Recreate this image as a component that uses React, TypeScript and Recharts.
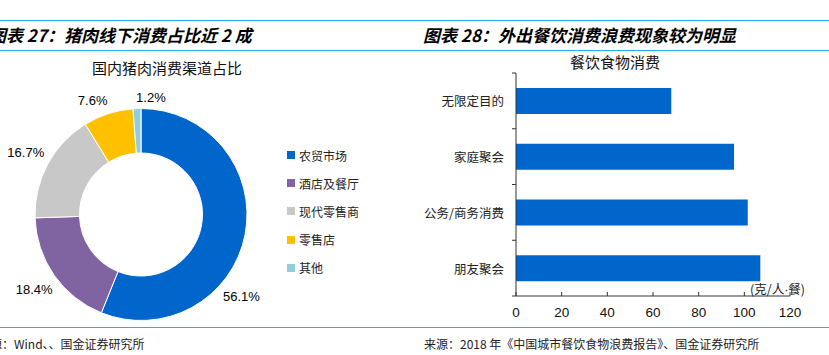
import React from 'react';
import { PieChart, Pie, Cell, BarChart, Bar, XAxis, YAxis } from 'recharts';

// pie: 国内猪肉消费渠道占比
const channelNames = ['农贸市场', '酒店及餐厅', '现代零售商', '零售店', '其他'];
const channelShares = [56.1, 18.4, 16.7, 7.6, 1.2];
const channelColors = ['#0066CC', '#8064A2', '#C8C8C8', '#FFC000', '#92CDDC'];

// bar: 餐饮食物消费 (克/人·餐)
const mealTypes = ['无限定目的', '家庭聚会', '公务/商务消费', '朋友聚会'];
const mealWaste = [68, 95.5, 101.5, 107];
const wasteTicks = [0, 20, 40, 60, 80, 100, 120];

const pieData = channelNames.map((name, i) => ({ name, value: channelShares[i] }));
const barData = mealTypes.map((name, i) => ({ name, value: mealWaste[i] }));

const CJK = '"Noto Sans CJK SC", "Noto Sans", sans-serif';
const ARIAL = '"Liberation Sans", Arial, sans-serif';
const RULE = '#1FB4EE';

const PctLabel = (props: any) => {
  const { cx, cy, outerRadius, startAngle, endAngle, percent, value } = props;
  // big slice label sits further along the arc; tiny slices get pushed apart
  let frac = 0.5;
  if (percent > 0.5) frac = 0.64;
  let ang = startAngle + (endAngle - startAngle) * frac;
  if (percent < 0.02) ang -= 7;
  else if (percent < 0.1) ang += 5;
  const rad = (-ang * Math.PI) / 180;
  const cos = Math.cos(rad);
  const sin = Math.sin(rad);
  const dist = outerRadius + 3 + Math.abs(cos) * 21 + Math.abs(sin) * 7;
  return (
    <text
      x={cx + dist * cos}
      y={cy + dist * sin}
      textAnchor="middle"
      dominantBaseline="central"
      fontFamily={ARIAL}
      fontSize={13}
      fill="#000"
    >
      {value.toFixed(1)}%
    </text>
  );
};

const CatTick = (props: any) => {
  const { x, y, payload, index } = props;
  const off = payload.offset ?? 27.9;
  const ax = x + 12;
  return (
    <g>
      <text x={x} y={y} textAnchor="end" dominantBaseline="central" fontFamily={CJK} fontSize={12.5} fill="#222">
        {payload.value}
      </text>
      {index === 0 && <line x1={ax - 4} x2={ax} y1={y - off} y2={y - off} stroke="#333" />}
      <line x1={ax - 4} x2={ax} y1={y + off} y2={y + off} stroke="#333" />
    </g>
  );
};

const NumTick = (props: any) => {
  const { x, y, payload } = props;
  const ay = y - 11;
  return (
    <g>
      <line x1={x} x2={x} y1={ay} y2={ay - 4} stroke="#333" />
      <text x={x} y={y + 9.5} textAnchor="middle" fontFamily={ARIAL} fontSize={13.5} fill="#111">
        {payload.value}
      </text>
    </g>
  );
};

const abs = (left: number, top: number, extra: React.CSSProperties = {}): React.CSSProperties => ({
  position: 'absolute',
  left,
  top,
  whiteSpace: 'nowrap',
  ...extra,
});

const titleStyle: React.CSSProperties = {
  fontFamily: CJK,
  fontSize: 17,
  fontWeight: 700,
  fontStyle: 'italic',
  lineHeight: '22px',
};

export default function App() {
  return (
    <div style={{ position: 'fixed', left: 0, top: 0, width: 829, height: 355, background: '#fff', overflow: 'hidden' }}>
      {/* header rules and titles */}
      <div style={abs(0, 20, { width: 829, height: 0, borderTop: `1.5px solid ${RULE}` })} />
      <div style={abs(0, 49.5, { width: 829, height: 0, borderTop: `1.5px solid ${RULE}` })} />
      <div style={abs(0, 326.5, { width: 829, height: 0, borderTop: `1.5px solid ${RULE}` })} />

      <div style={abs(-11, 24, titleStyle)}>图表 27：猪肉线下消费占比近 2 成</div>
      <div style={abs(423, 24, titleStyle)}>图表 28：外出餐饮消费浪费现象较为明显</div>

      {/* left: donut */}
      <div style={abs(92, 59, { fontFamily: CJK, fontSize: 15, lineHeight: '18px', color: '#111' })}>
        国内猪肉消费渠道占比
      </div>
      <div style={abs(0, 0)}>
        <PieChart width={280} height={330} margin={{ top: 0, right: 0, bottom: 0, left: 0 }}>
          <Pie
            data={pieData}
            dataKey="value"
            nameKey="name"
            cx={141}
            cy={214.5}
            innerRadius={61.5}
            outerRadius={106}
            startAngle={90}
            endAngle={-270}
            stroke="#fff"
            strokeWidth={1}
            label={PctLabel}
            labelLine={false}
            isAnimationActive={false}
          >
            {pieData.map((d, i) => (
              <Cell key={d.name} fill={channelColors[i]} />
            ))}
          </Pie>
        </PieChart>
      </div>
      <div style={abs(287, 141)}>
        {channelNames.map((name, i) => (
          <div key={name} style={{ display: 'flex', alignItems: 'center', height: 28.2, fontFamily: CJK, fontSize: 12, color: '#222' }}>
            <span style={{ display: 'inline-block', width: 8, height: 8, background: channelColors[i], marginRight: 4 }} />
            {name}
          </div>
        ))}
      </div>

      {/* right: bars */}
      <div style={abs(570, 53, { fontFamily: CJK, fontSize: 15, lineHeight: '18px', color: '#111' })}>
        餐饮食物消费
      </div>
      <div style={abs(410, 0)}>
        <BarChart
          width={419}
          height={330}
          data={barData}
          layout="vertical"
          margin={{ top: 73, right: 39, left: 0, bottom: 4 }}
          barSize={26}
        >
          <XAxis
            type="number"
            domain={[0, 120]}
            ticks={wasteTicks}
            interval={0}
            height={30}
            stroke="#333"
            tickLine={false}
            tickSize={0}
            tickMargin={11}
            tick={<NumTick />}
          />
          <YAxis
            type="category"
            dataKey="name"
            width={106}
            stroke="#333"
            tickLine={false}
            tickSize={4}
            tickMargin={8}
            interval={0}
            tick={<CatTick />}
          />
          <Bar dataKey="value" fill="#0066CC" isAnimationActive={false} />
        </BarChart>
      </div>
      <div style={abs(750, 281, { fontFamily: CJK, fontSize: 12.5, lineHeight: '16px', color: '#222' })}>
        (克/人<span style={{ fontFamily: ARIAL }}>·</span>餐)
      </div>

      {/* sources */}
      <div style={abs(-22, 336, { fontFamily: CJK, fontSize: 12, lineHeight: '16px', color: '#222' })}>
        来源：Wind、、国金证券研究所
      </div>
      <div style={abs(424, 336, { fontFamily: CJK, fontSize: 12, lineHeight: '16px', color: '#222' })}>
        来源：2018 年《中国城市餐饮食物浪费报告》、国金证券研究所
      </div>
    </div>
  );
}
